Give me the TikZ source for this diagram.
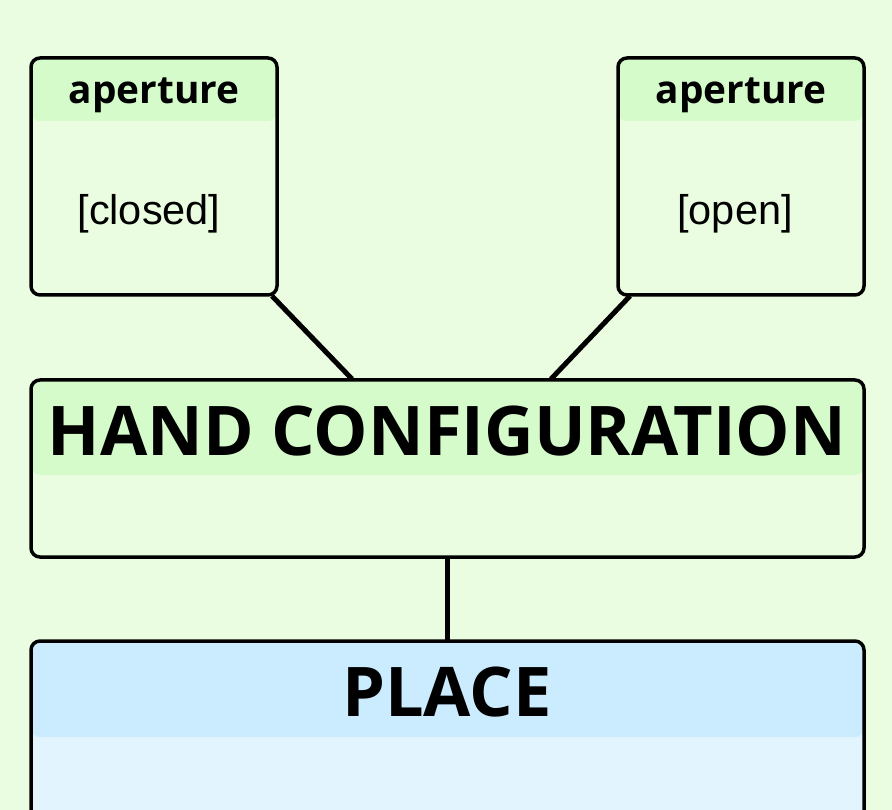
\documentclass[tikz,border=0pt]{standalone}
\usepackage{fontspec}
\setmainfont{Liberation Sans}
\newfontfamily\headfont{Open Sans}
\usetikzlibrary{calc}
\definecolor{bg}{HTML}{EBFDE1}
\definecolor{headg}{HTML}{D5FBCB}
\definecolor{bodyg}{HTML}{EBFDE1}
\definecolor{headb}{HTML}{CBEBFE}
\definecolor{bodyb}{HTML}{E2F4FE}
\tikzset{
  box/.style 2 args={draw=black, line width=3.5pt, rounded corners=9pt, fill=#2,
    anchor=north west, inner sep=0pt, outer sep=0pt,
    path picture={\fill[#1] (path picture bounding box.north west) rectangle ([yshift=-\headh]path picture bounding box.north east);}},
  conn/.style={line width=5pt, draw=black},
  small/.style={font=\headfont\bfseries\fontsize{38.8}{42}\selectfont, anchor=base},
  big/.style={font=\headfont\bfseries\fontsize{68.5}{76}\selectfont, anchor=base},
  val/.style={font=\fontsize{41.5}{45}\selectfont, anchor=base}
}
\newlength\headh
\begin{document}
\begin{tikzpicture}[x=1pt,y=-1pt]
\useasboundingbox (0,0) rectangle (892,810);
\clip (0,0) rectangle (892,810);
\fill[bg] (0,0) rectangle (892,810);
\setlength\headh{63pt}
\node[box={headg}{bodyg}, minimum width=246pt, minimum height=237pt] (b1) at (31,58) {};
\node[box={headg}{bodyg}, minimum width=246pt, minimum height=237pt] (b2) at (618,58) {};
\setlength\headh{95pt}
\node[box={headg}{bodyg}, minimum width=833pt, minimum height=177pt] (hc) at (31,380) {};
\setlength\headh{96pt}
\node[box={headb}{bodyb}, minimum width=833pt, minimum height=230pt] (pl) at (31,641) {};
\draw[conn] ($(b1.south east)+(-5,1)$) -- ($(hc.north west)+(321,-1)$);
\draw[conn] ($(b2.south west)+(12,1)$) -- ($(hc.north west)+(520,-1)$);
\draw[conn] ($(hc.south west)+(416,1)$) -- ($(pl.north west)+(416,-1)$);
\node[small] (t1) at (154,104) {aperture};
\node[small] (t2) at (741,104) {aperture};
\node[val] (v1) at (149,225) {[closed]};
\node[val] (v2) at (735,225) {[open]};
\node[big] (th) at (447,455) {HAND CONFIGURATION};
\node[big] (tp) at (447,716) {PLACE};
\end{tikzpicture}
\end{document}
